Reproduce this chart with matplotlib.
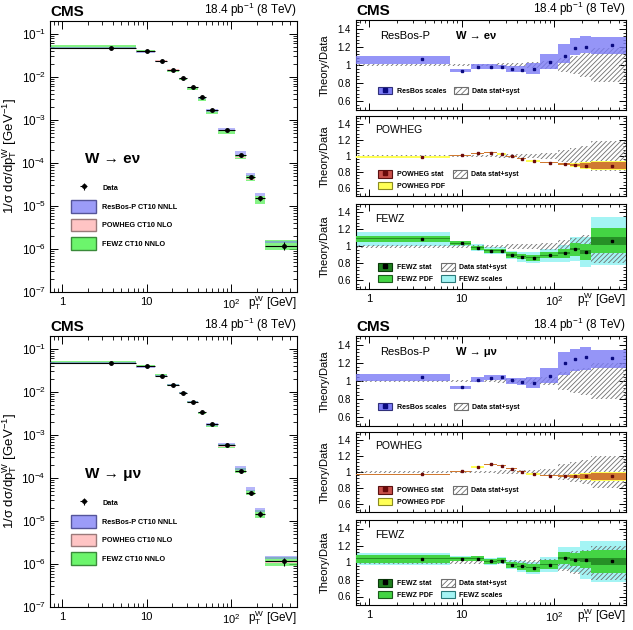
import matplotlib
matplotlib.use("Agg")
import matplotlib.pyplot as plt
import numpy as np
from matplotlib.patches import Patch
from matplotlib.lines import Line2D
from matplotlib.ticker import FixedLocator, FixedFormatter, MultipleLocator, LogLocator, NullFormatter

plt.rcParams["font.family"] = ["Liberation Sans", "DejaVu Sans"]
plt.rcParams["mathtext.fontset"] = "custom"
plt.rcParams["mathtext.rm"] = "Liberation Sans"
plt.rcParams["mathtext.it"] = "Liberation Sans:italic"
plt.rcParams["mathtext.bf"] = "Liberation Sans:bold"
plt.rcParams["hatch.linewidth"] = 0.6

# pT(W) bin edges [GeV]
edges = [0, 7.5, 12.5, 17.5, 24, 30, 40, 50, 70, 110, 150, 190, 250, 600]

# normalised spectra
xsec_e = [0.046, 0.040, 0.0235, 0.0143, 0.0093, 0.0059, 0.0034, 0.00175, 0.00057, 1.5e-4, 4.6e-5, 1.5e-5, 1.2e-6]
xsec_mu = [0.047, 0.040, 0.0237, 0.0145, 0.0094, 0.0059, 0.0034, 0.00178, 0.00057, 1.45e-4, 4.5e-5, 1.45e-5, 1.15e-6]

# data stat+syst relative half-widths
dunc_e = [0.012, 0.015, 0.015, 0.015, 0.02, 0.025, 0.025, 0.03, 0.04, 0.08, 0.10, 0.13, 0.19]
dunc_mu = [0.012, 0.015, 0.015, 0.015, 0.02, 0.025, 0.025, 0.03, 0.04, 0.10, 0.13, 0.15, 0.20]

# ResBos-P / data
resbos_e = [1.063, 0.933, 0.98, 0.98, 0.978, 0.956, 0.948, 0.952, 1.033, 1.104, 1.185, 1.204, 1.226]
resbos_e_lo = [1.011, 0.918, 0.952, 0.955, 0.952, 0.926, 0.918, 0.896, 0.952, 1.019, 1.111, 1.13, 1.119]
resbos_e_hi = [1.104, 0.952, 1.007, 1.007, 1.0, 0.99, 0.993, 1.02, 1.122, 1.233, 1.296, 1.326, 1.307]
resbos_mu = [1.04, 0.93, 1.015, 1.037, 1.04, 1.007, 0.993, 0.98, 1.06, 1.196, 1.248, 1.267, 1.26]
resbos_mu_lo = [1.0, 0.911, 0.99, 1.007, 1.011, 0.97, 0.952, 0.918, 0.974, 1.07, 1.11, 1.126, 1.148]
resbos_mu_hi = [1.074, 0.948, 1.04, 1.063, 1.063, 1.037, 1.03, 1.04, 1.14, 1.326, 1.356, 1.38, 1.344]

# POWHEG / data
powheg_e = [0.988, 1.008, 1.033, 1.042, 1.025, 0.996, 0.967, 0.938, 0.917, 0.90, 0.888, 0.879, 0.879]
powheg_mu = [0.97, 1.008, 1.063, 1.096, 1.079, 1.042, 1.004, 0.975, 0.954, 0.95, 0.946, 0.946, 0.946]
powheg_stat = [0.004, 0.004, 0.004, 0.004, 0.004, 0.004, 0.004, 0.005, 0.006, 0.01, 0.015, 0.03, 0.04]
powheg_pdf = [0.007, 0.007, 0.007, 0.007, 0.007, 0.007, 0.007, 0.008, 0.009, 0.015, 0.025, 0.045, 0.06]

# FEWZ / data
fewz_e = [1.092, 1.04, 0.984, 0.952, 0.952, 0.90, 0.88, 0.868, 0.896, 0.92, 0.968, 0.936, 1.068]
fewz_e_pdf = [0.035, 0.022, 0.026, 0.024, 0.024, 0.03, 0.032, 0.034, 0.036, 0.05, 0.074, 0.09, 0.15]
fewz_e_scale = [0.082, 0.03, 0.04, 0.042, 0.042, 0.052, 0.06, 0.066, 0.074, 0.1, 0.144, 0.18, 0.28]
fewz_mu = [1.043, 1.043, 1.047, 1.012, 1.02, 0.976, 0.953, 0.937, 0.973, 1.051, 1.035, 1.031, 1.012]
fewz_mu_pdf = [0.05, 0.022, 0.028, 0.028, 0.028, 0.035, 0.04, 0.047, 0.055, 0.07, 0.075, 0.1, 0.137]
fewz_mu_scale = [0.07, 0.03, 0.035, 0.04, 0.04, 0.05, 0.06, 0.07, 0.09, 0.13, 0.15, 0.22, 0.245]
fewz_stat = [0.006, 0.006, 0.006, 0.006, 0.006, 0.006, 0.006, 0.007, 0.008, 0.01, 0.015, 0.02, 0.045]

XMIN, XMAX = 0.72, 600
W_PX, H_PX = 633, 630

C_RESBOS = "#7b7bf5"
C_POW_LEG = "#ffc4c4"
C_FEWZ_SPEC = "#5cf05c"
C_POW_STAT = "#b8321e"
C_POW_PDF = "#ffff55"
C_FEWZ_STAT = "#1f7f1f"
C_FEWZ_PDF = "#44d444"
C_FEWZ_SCALE = "#a4f4f4"
C_HATCH = "#6e6e6e"


def px_axes(fig, left, top, right, bottom):
    return fig.add_axes([left / W_PX, 1 - bottom / H_PX, (right - left) / W_PX, (bottom - top) / H_PX])


def bins():
    lo = np.maximum(np.array(edges[:-1], dtype=float), XMIN)
    hi = np.array(edges[1:], dtype=float)
    centers = 0.5 * (np.array(edges[:-1]) + hi)
    return lo, hi - lo, centers


def style_axis(ax):
    ax.set_xscale("log")
    ax.set_xlim(XMIN, XMAX)
    ax.tick_params(which="both", direction="in", top=True, right=True, labelsize=8)
    ax.tick_params(which="major", length=6, width=0.7)
    ax.tick_params(which="minor", length=3, width=0.6)
    ax.xaxis.set_major_locator(FixedLocator([1, 10, 100]))
    ax.xaxis.set_major_formatter(FixedFormatter(["1", "10", "$10^{2}$"]))
    ax.xaxis.set_minor_locator(LogLocator(base=10, subs=np.arange(2, 10), numticks=20))
    ax.xaxis.set_minor_formatter(NullFormatter())
    for s in ax.spines.values():
        s.set_linewidth(0.8)


def band(ax, lo, hi, **kw):
    x0, w, _ = bins()
    lo = np.asarray(lo)
    hi = np.asarray(hi)
    ax.bar(x0, hi - lo, width=w, bottom=lo, align="edge", **kw)


def hatch_band(ax, unc):
    unc = np.asarray(unc)
    band(ax, 1 - unc, 1 + unc, facecolor="none", edgecolor=C_HATCH, hatch="///////", linewidth=0, zorder=2)


def spectrum(fig, y0, xsec, dunc, rb_lo, rb_hi, pw, fz, fz_scale, decay):
    ax = px_axes(fig, 50, 21 + y0, 297, 292 + y0)
    style_axis(ax)
    ax.set_yscale("log")
    ax.set_ylim(1e-7, 0.2)
    ax.yaxis.set_minor_locator(LogLocator(base=10, subs=np.arange(2, 10), numticks=20))
    ax.yaxis.set_minor_formatter(NullFormatter())
    ax.tick_params(axis="y", labelsize=8.5, pad=3)
    xs = np.array(xsec)
    _, _, centers = bins()
    band(ax, xs * (np.array(fz) - np.array(fz_scale)), xs * (np.array(fz) + np.array(fz_scale)),
         color=C_FEWZ_SPEC, alpha=0.75, linewidth=0, zorder=2)
    band(ax, xs * (np.array(pw) - 0.01), xs * (np.array(pw) + 0.01), color=C_POW_LEG, linewidth=0, zorder=2)
    band(ax, xs * np.array(rb_lo), xs * np.array(rb_hi), color=C_RESBOS, alpha=0.55, linewidth=0, zorder=3)
    xlo = centers - np.maximum(np.array(edges[:-1]), XMIN)
    xhi = np.array(edges[1:]) - centers
    eb = ax.errorbar(centers, xs, xerr=[xlo, xhi], yerr=xs * np.array(dunc), fmt="o", color="black",
                     ms=2.5, elinewidth=0.8, capsize=0, zorder=5)
    # y title placed by hand, centred ~10 px from the left edge of the figure
    ax.text(-0.163, 0.5, "1/σ dσ/dp$_{\\mathrm{T}}^{\\mathrm{W}}$ [GeV$^{-1}$]", transform=ax.transAxes,
            fontsize=9.5, rotation=90, ha="center", va="center")
    ax.text(0.0, 1.008, "CMS", transform=ax.transAxes, fontsize=11, fontweight="bold", va="bottom")
    ax.text(1.0, 1.008, "18.4 pb$^{-1}$ (8 TeV)", transform=ax.transAxes, fontsize=8.5, ha="right", va="bottom")
    ax.text(1.0, -0.004, "p$_{\\mathrm{T}}^{\\mathrm{W}}$ [GeV]", transform=ax.transAxes, fontsize=8.5,
            ha="right", va="top")
    ax.text(0.14, 0.49, decay, transform=ax.transAxes, fontsize=11, fontweight="bold", va="center")
    handles = [eb,
               Patch(facecolor="#9c9cf8", edgecolor="#55559a", linewidth=1),
               Patch(facecolor=C_POW_LEG, edgecolor="#9a7a7a", linewidth=1),
               Patch(facecolor="#6cf56c", edgecolor="#3a8a3a", linewidth=1)]
    labels = ["Data", "ResBos-P CT10 NNLL", "POWHEG CT10 NLO", "FEWZ CT10 NNLO"]
    ax.legend(handles, labels, loc="upper left", bbox_to_anchor=(0.06, 0.43), frameon=False,
              prop={"size": 5.2, "weight": "bold"}, handlelength=3.4, handleheight=2.3,
              labelspacing=0.8, handletextpad=0.9)
    return ax


def ratio_axis(fig, top, bottom, last):
    ax = px_axes(fig, 356, top, 626, bottom)
    style_axis(ax)
    ax.set_ylim(0.5, 1.5)
    ax.yaxis.set_major_locator(FixedLocator([0.6, 0.8, 1.0, 1.2, 1.4]))
    ax.yaxis.set_major_formatter(FixedFormatter(["0.6", "0.8", "1", "1.2", "1.4"]))
    ax.yaxis.set_minor_locator(MultipleLocator(0.04))
    ax.tick_params(axis="both", labelsize=7)
    ax.tick_params(which="major", length=5)
    ax.tick_params(which="minor", length=2.5)
    ax.set_ylabel("Theory/Data", fontsize=8, labelpad=6)
    if not last:
        ax.tick_params(axis="x", labelbottom=False)
    else:
        ax.tick_params(axis="x", labelsize=8)
        ax.text(1.0, -0.02, "p$_{\\mathrm{T}}^{\\mathrm{W}}$ [GeV]", transform=ax.transAxes, fontsize=8.5,
                ha="right", va="top")
    return ax


def ratios(fig, y0, dunc, rb, rb_lo, rb_hi, pw, fz, fz_pdf, fz_scale, decay):
    _, _, centers = bins()
    hatch_leg = Patch(facecolor="white", edgecolor=C_HATCH, hatch="//////", linewidth=0.8)
    leg_kw = dict(frameon=False, prop={"size": 5, "weight": "bold"}, handlelength=2.0, handleheight=1.3,
                  handletextpad=0.6, columnspacing=1.2, labelspacing=0.5)

    # ResBos-P
    ax = ratio_axis(fig, 20 + y0, 110 + y0, False)
    hatch_band(ax, dunc)
    band(ax, rb_lo, rb_hi, color=C_RESBOS, alpha=0.8, linewidth=0, zorder=3)
    ax.plot(centers, rb, "s", color="#0a0a80", ms=1.8, zorder=5)
    ax.text(0.09, 0.82, "ResBos-P", transform=ax.transAxes, fontsize=8, va="center")
    ax.text(0.37, 0.82, decay, transform=ax.transAxes, fontsize=8, fontweight="bold", va="center")
    ax.text(0.0, 1.02, "CMS", transform=ax.transAxes, fontsize=11, fontweight="bold", va="bottom")
    ax.text(1.0, 1.02, "18.4 pb$^{-1}$ (8 TeV)", transform=ax.transAxes, fontsize=8.5, ha="right", va="bottom")
    h_rb = (Patch(facecolor=C_RESBOS, edgecolor="#30307a", linewidth=0.8),
            Line2D([], [], marker="s", ls="", color="#0a0a80", ms=2.2))
    ax.legend([h_rb, hatch_leg], ["ResBos scales", "Data stat+syst"], ncol=2, loc="lower left",
              bbox_to_anchor=(0.06, 0.1), **leg_kw)

    # POWHEG
    ax = ratio_axis(fig, 116 + y0, 196 + y0, False)
    hatch_band(ax, dunc)
    pw = np.array(pw)
    band(ax, pw - np.array(powheg_pdf), pw + np.array(powheg_pdf), color=C_POW_PDF, linewidth=0, zorder=3)
    band(ax, pw - np.array(powheg_stat), pw + np.array(powheg_stat), color=C_POW_STAT, alpha=0.65,
         linewidth=0, zorder=4)
    ax.plot(centers, pw, "s", color="#6a0a0a", ms=1.8, zorder=5)
    ax.text(0.07, 0.83, "POWHEG", transform=ax.transAxes, fontsize=7.5, va="center")
    h_ps = (Patch(facecolor="#c8504a", edgecolor="#5a1010", linewidth=0.8),
            Line2D([], [], marker="s", ls="", color="#6a0a0a", ms=2.2))
    h_pp = Patch(facecolor=C_POW_PDF, edgecolor="#8a8a20", linewidth=0.8)
    ax.legend([h_ps, h_pp, hatch_leg], ["POWHEG stat", "POWHEG PDF", "Data stat+syst"], ncol=2,
              loc="lower left", bbox_to_anchor=(0.06, 0.0), **leg_kw)

    # FEWZ
    ax = ratio_axis(fig, 204 + y0, 289 + y0, True)
    fz = np.array(fz)
    band(ax, fz - np.array(fz_scale), fz + np.array(fz_scale), color=C_FEWZ_SCALE, linewidth=0, zorder=2)
    hatch_band(ax, dunc)
    band(ax, fz - np.array(fz_pdf), fz + np.array(fz_pdf), color=C_FEWZ_PDF, linewidth=0, zorder=3)
    band(ax, fz - np.array(fewz_stat), fz + np.array(fewz_stat), color=C_FEWZ_STAT, alpha=0.8,
         linewidth=0, zorder=4)
    ax.plot(centers, fz, "s", color="black", ms=1.8, zorder=5)
    ax.text(0.07, 0.82, "FEWZ", transform=ax.transAxes, fontsize=7.5, va="center")
    h_fs = (Patch(facecolor=C_FEWZ_STAT, edgecolor="#0a3a0a", linewidth=0.8),
            Line2D([], [], marker="s", ls="", color="black", ms=2.2))
    h_fp = Patch(facecolor=C_FEWZ_PDF, edgecolor="#1a5a1a", linewidth=0.8)
    h_fc = Patch(facecolor=C_FEWZ_SCALE, edgecolor="#2a7a7a", linewidth=0.8)
    ax.legend([h_fs, h_fp, hatch_leg, h_fc], ["FEWZ stat", "FEWZ PDF", "Data stat+syst", "FEWZ scales"],
              ncol=2, loc="lower left", bbox_to_anchor=(0.06, 0.0), **leg_kw)


def main():
    fig = plt.figure(figsize=(W_PX / 100, H_PX / 100), dpi=100)
    fig.patch.set_facecolor("white")

    spectrum(fig, 0, xsec_e, dunc_e, resbos_e_lo, resbos_e_hi, powheg_e, fewz_e, fewz_e_scale, "W → eν")
    ratios(fig, 0, dunc_e, resbos_e, resbos_e_lo, resbos_e_hi, powheg_e, fewz_e, fewz_e_pdf, fewz_e_scale,
           "W → eν")

    spectrum(fig, 315, xsec_mu, dunc_mu, resbos_mu_lo, resbos_mu_hi, powheg_mu, fewz_mu, fewz_mu_scale,
             "W → μν")
    ratios(fig, 316, dunc_mu, resbos_mu, resbos_mu_lo, resbos_mu_hi, powheg_mu, fewz_mu, fewz_mu_pdf,
           fewz_mu_scale, "W → μν")

    fig.savefig("out.png", dpi=100)
    plt.close(fig)


if __name__ == "__main__":
    main()
